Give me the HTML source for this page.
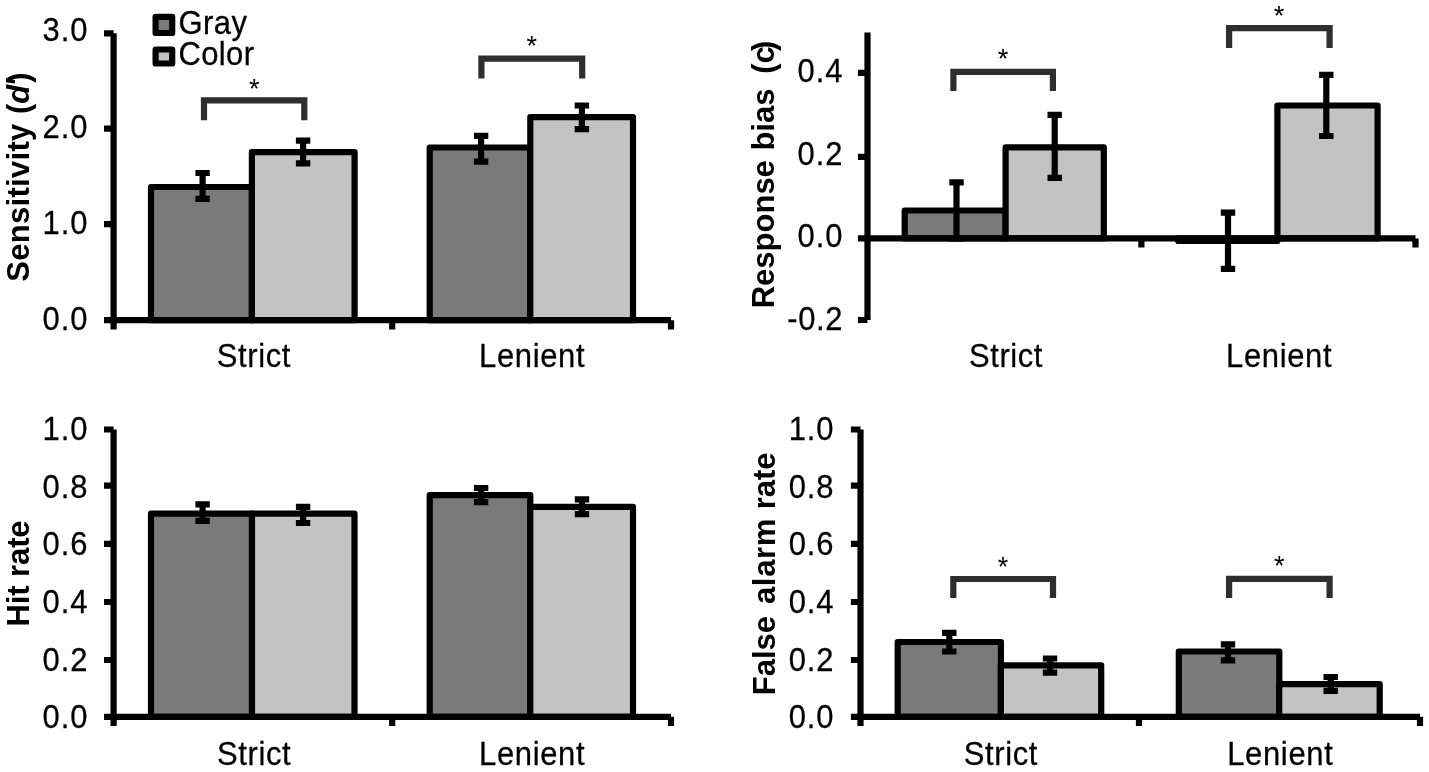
<!DOCTYPE html>
<html lang="en">
<head>
<meta charset="utf-8">
<title>Figure</title>
<style>
html,body{margin:0;padding:0;background:#fff;}
body{width:1429px;height:772px;overflow:hidden;}
svg{display:block;filter:grayscale(1);}
.t{font-family:"Liberation Sans",Arial,Helvetica,sans-serif;font-size:31px;fill:#000;stroke:#000;stroke-width:0.25px;}
.y{font-family:"Liberation Sans",Arial,Helvetica,sans-serif;font-size:31px;font-weight:bold;fill:#000;}
.s{font-family:"Liberation Sans",Arial,Helvetica,sans-serif;font-size:27px;fill:#000;text-anchor:middle;}
.b{stroke:#000;stroke-width:6.2;stroke-linejoin:round;}
.a{stroke:#000;stroke-width:6.2;fill:none;stroke-linecap:butt;}
.e{stroke:#000;stroke-width:6.2;fill:none;stroke-linecap:butt;}
.k{stroke:#2e2e2e;stroke-width:6.2;fill:none;stroke-linejoin:miter;stroke-linecap:butt;}
</style>
</head>
<body>
<svg width="1429" height="772" viewBox="0 0 1429 772">
<rect x="0" y="0" width="1429" height="772" fill="#fff"/>
<rect x="151.0" y="187.0" width="100.9" height="133.2" fill="#7a7a7a" class="b"/>
<rect x="251.9" y="152.2" width="102.7" height="168.0" fill="#c3c3c3" class="b"/>
<rect x="429.7" y="147.5" width="100.6" height="172.7" fill="#7a7a7a" class="b"/>
<rect x="530.3" y="117.1" width="102.7" height="203.1" fill="#c3c3c3" class="b"/>
<path d="M113.6 33.3V329.4M104.0 33.3H113.6M104.0 128.6H113.6M104.0 224.2H113.6M104.0 320.2H671.0M392.2 320.2V329.4M671.0 320.2V329.4" class="a"/>
<path d="M195.4 173.0H209.8M195.4 198.9H209.8M202.6 173.0V198.9" class="e"/>
<path d="M295.9 140.6H310.3M295.9 163.4H310.3M303.1 140.6V163.4" class="e"/>
<path d="M473.9 135.9H488.3M473.9 161.7H488.3M481.1 135.9V161.7" class="e"/>
<path d="M574.7 105.5H589.1M574.7 129.2H589.1M581.9 105.5V129.2" class="e"/>
<path d="M204.0 120.3V100.4H304.3V120.3" class="k"/>
<path d="M481.4 78.4V58.7H582.2V78.4" class="k"/>
<text x="254.3" y="97.9" class="s">*</text>
<text x="531.8" y="55.1" class="s">*</text>
<text transform="translate(87.5 41.4) scale(1 1.045)" class="t" text-anchor="end" textLength="44.9" lengthAdjust="spacing">3.0</text>
<text transform="translate(87.5 137.6) scale(1 1.045)" class="t" text-anchor="end" textLength="44.9" lengthAdjust="spacing">2.0</text>
<text transform="translate(87.5 233.8) scale(1 1.045)" class="t" text-anchor="end" textLength="44.9" lengthAdjust="spacing">1.0</text>
<text transform="translate(87.5 330.0) scale(1 1.045)" class="t" text-anchor="end" textLength="44.9" lengthAdjust="spacing">0.0</text>
<text transform="translate(253.6 367.0) scale(1 1.045)" class="t" text-anchor="middle" textLength="73.6" lengthAdjust="spacing">Strict</text>
<text transform="translate(531.8 367.0) scale(1 1.045)" class="t" text-anchor="middle" textLength="105.6" lengthAdjust="spacing">Lenient</text>
<text transform="translate(28.8 281.8) rotate(-90)" class="y"><tspan letter-spacing="0.3">Sensitivity</tspan><tspan dx="0.7"> (</tspan><tspan font-style="italic">d</tspan>′<tspan dx="-5.4">)</tspan></text>
<rect x="155.6" y="16.8" width="16.6" height="16.2" fill="#7a7a7a" class="b"/>
<rect x="155.6" y="49.5" width="16.6" height="14.0" fill="#c3c3c3" class="b"/>
<text transform="translate(178.5 33.8) scale(1 1.045)" class="t" textLength="68.4" lengthAdjust="spacing">Gray</text>
<text transform="translate(178.4 64.9) scale(1 1.045)" class="t" textLength="75.6" lengthAdjust="spacing">Color</text>
<rect x="904.7" y="210.5" width="100.9" height="27.9" fill="#7a7a7a" class="b"/>
<rect x="1005.6" y="147.4" width="98.2" height="91.0" fill="#c3c3c3" class="b"/>
<rect x="1178.2" y="238.4" width="99.2" height="2.5" fill="#7a7a7a" class="b"/>
<rect x="1277.4" y="105.5" width="100.2" height="132.9" fill="#c3c3c3" class="b"/>
<path d="M867.5 32.5V320.0M857.9 72.8H867.5M857.9 156.9H867.5M857.9 320.0H867.5M857.9 238.4H1415.5M1141.4 238.4V247.6M1415.5 238.4V247.6" class="a"/>
<path d="M949.3 182.4H963.7M949.3 238.4H963.7M956.5 182.4V238.4" class="e"/>
<path d="M1047.5 114.8H1061.9M1047.5 177.9H1061.9M1054.7 114.8V177.9" class="e"/>
<path d="M1220.8 212.6H1235.2M1220.8 268.9H1235.2M1228.0 212.6V268.9" class="e"/>
<path d="M1319.1 74.9H1333.5M1319.1 136.0H1333.5M1326.3 74.9V136.0" class="e"/>
<path d="M953.4 91.0V71.8H1052.9V91.0" class="k"/>
<path d="M1229.1 48.0V28.2H1329.6V48.0" class="k"/>
<text x="1003.0" y="68.1" class="s">*</text>
<text x="1279.0" y="24.6" class="s">*</text>
<text transform="translate(842.5 82.3) scale(1 1.045)" class="t" text-anchor="end" textLength="44.9" lengthAdjust="spacing">0.4</text>
<text transform="translate(842.5 164.8) scale(1 1.045)" class="t" text-anchor="end" textLength="44.9" lengthAdjust="spacing">0.2</text>
<text transform="translate(842.5 247.3) scale(1 1.045)" class="t" text-anchor="end" textLength="44.9" lengthAdjust="spacing">0.0</text>
<text transform="translate(842.5 329.8) scale(1 1.045)" class="t" text-anchor="end" textLength="55.2" lengthAdjust="spacing">-0.2</text>
<text transform="translate(1005.7 367.0) scale(1 1.045)" class="t" text-anchor="middle" textLength="73.6" lengthAdjust="spacing">Strict</text>
<text transform="translate(1278.8 367.0) scale(1 1.045)" class="t" text-anchor="middle" textLength="105.6" lengthAdjust="spacing">Lenient</text>
<text transform="translate(773.6 308.3) rotate(-90)" class="y" xml:space="preserve">Response<tspan dx="0.9"> bias</tspan><tspan dx="6.1"> (c</tspan><tspan dx="-4.6">)</tspan></text>
<rect x="151.0" y="513.7" width="101.0" height="203.1" fill="#7a7a7a" class="b"/>
<rect x="252.0" y="513.7" width="102.5" height="203.1" fill="#c3c3c3" class="b"/>
<rect x="429.7" y="495.1" width="100.6" height="221.7" fill="#7a7a7a" class="b"/>
<rect x="530.3" y="506.8" width="102.7" height="210.0" fill="#c3c3c3" class="b"/>
<path d="M113.6 429.5V726.0M104.0 429.5H113.6M104.0 485.6H113.6M104.0 543.8H113.6M104.0 602.0H113.6M104.0 660.0H113.6M104.0 716.8H671.0M392.2 716.8V726.0M671.0 716.8V726.0" class="a"/>
<path d="M195.4 504.3H209.8M195.4 520.8H209.8M202.6 504.3V520.8" class="e"/>
<path d="M295.9 506.9H310.3M295.9 523.0H310.3M303.1 506.9V523.0" class="e"/>
<path d="M473.9 488.0H488.3M473.9 502.2H488.3M481.1 488.0V502.2" class="e"/>
<path d="M574.8 499.4H589.2M574.8 514.1H589.2M582.0 499.4V514.1" class="e"/>
<text transform="translate(87.5 439.8) scale(1 1.045)" class="t" text-anchor="end" textLength="44.9" lengthAdjust="spacing">1.0</text>
<text transform="translate(87.5 497.5) scale(1 1.045)" class="t" text-anchor="end" textLength="44.9" lengthAdjust="spacing">0.8</text>
<text transform="translate(87.5 555.2) scale(1 1.045)" class="t" text-anchor="end" textLength="44.9" lengthAdjust="spacing">0.6</text>
<text transform="translate(87.5 612.9) scale(1 1.045)" class="t" text-anchor="end" textLength="44.9" lengthAdjust="spacing">0.4</text>
<text transform="translate(87.5 670.6) scale(1 1.045)" class="t" text-anchor="end" textLength="44.9" lengthAdjust="spacing">0.2</text>
<text transform="translate(87.5 728.3) scale(1 1.045)" class="t" text-anchor="end" textLength="44.9" lengthAdjust="spacing">0.0</text>
<text transform="translate(253.8 765.3) scale(1 1.045)" class="t" text-anchor="middle" textLength="73.6" lengthAdjust="spacing">Strict</text>
<text transform="translate(531.8 765.3) scale(1 1.045)" class="t" text-anchor="middle" textLength="105.6" lengthAdjust="spacing">Lenient</text>
<text transform="translate(28.8 573.4) rotate(-90)" class="y" text-anchor="middle" textLength="106" lengthAdjust="spacing">Hit rate</text>
<rect x="897.7" y="642.0" width="103.2" height="74.8" fill="#7a7a7a" class="b"/>
<rect x="1000.9" y="665.3" width="100.3" height="51.5" fill="#c3c3c3" class="b"/>
<rect x="1178.8" y="651.5" width="100.5" height="65.3" fill="#7a7a7a" class="b"/>
<rect x="1279.2" y="684.1" width="100.5" height="32.7" fill="#c3c3c3" class="b"/>
<path d="M860.5 429.5V726.0M850.9 429.5H860.5M850.9 485.6H860.5M850.9 543.8H860.5M850.9 602.0H860.5M850.9 660.0H860.5M850.9 716.8H1420.0M1139.0 716.8V726.0M1420.0 716.8V726.0" class="a"/>
<path d="M942.1 632.8H956.5M942.1 651.5H956.5M949.3 632.8V651.5" class="e"/>
<path d="M1042.8 658.5H1057.2M1042.8 672.6H1057.2M1050.0 658.5V672.6" class="e"/>
<path d="M1220.8 644.3H1235.2M1220.8 660.4H1235.2M1228.0 644.3V660.4" class="e"/>
<path d="M1323.5 677.0H1337.9M1323.5 690.9H1337.9M1330.7 677.0V690.9" class="e"/>
<path d="M953.3 597.9V579.0H1053.0V597.9" class="k"/>
<path d="M1229.1 598.1V578.8H1329.6V598.1" class="k"/>
<text x="1003.0" y="575.9" class="s">*</text>
<text x="1279.2" y="574.6" class="s">*</text>
<text transform="translate(833.6 439.8) scale(1 1.045)" class="t" text-anchor="end" textLength="44.9" lengthAdjust="spacing">1.0</text>
<text transform="translate(833.6 497.5) scale(1 1.045)" class="t" text-anchor="end" textLength="44.9" lengthAdjust="spacing">0.8</text>
<text transform="translate(833.6 555.2) scale(1 1.045)" class="t" text-anchor="end" textLength="44.9" lengthAdjust="spacing">0.6</text>
<text transform="translate(833.6 612.9) scale(1 1.045)" class="t" text-anchor="end" textLength="44.9" lengthAdjust="spacing">0.4</text>
<text transform="translate(833.6 670.6) scale(1 1.045)" class="t" text-anchor="end" textLength="44.9" lengthAdjust="spacing">0.2</text>
<text transform="translate(833.6 728.3) scale(1 1.045)" class="t" text-anchor="end" textLength="44.9" lengthAdjust="spacing">0.0</text>
<text transform="translate(1000.6 765.3) scale(1 1.045)" class="t" text-anchor="middle" textLength="73.6" lengthAdjust="spacing">Strict</text>
<text transform="translate(1280.0 765.3) scale(1 1.045)" class="t" text-anchor="middle" textLength="105.6" lengthAdjust="spacing">Lenient</text>
<text transform="translate(775.0 695.2) rotate(-90)" class="y" xml:space="preserve">False<tspan dx="2.5" letter-spacing="0.7"> alarm</tspan><tspan dx="0"> rate</tspan></text>
</svg>
</body>
</html>
